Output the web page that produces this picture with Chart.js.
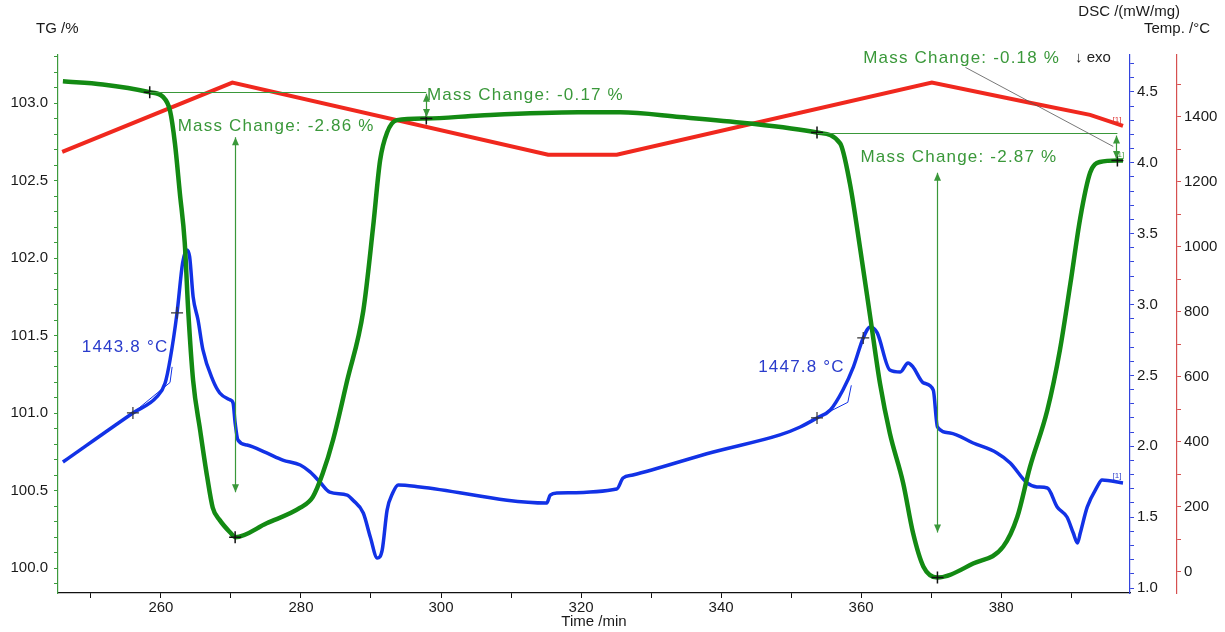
<!DOCTYPE html>
<html>
<head>
<meta charset="utf-8">
<title>TG / DSC</title>
<script src="https://cdn.jsdelivr.net/npm/chart.js@4.4.1/dist/chart.umd.min.js"></script>
<style>
  html, body { margin: 0; padding: 0; background: #fff; }
  canvas { display: block; }
</style>
</head>
<body>
<canvas id="tgChart" width="1225" height="632"></canvas>
<script>
// TG curve (time in min, mass in %)
const tgTime = [246.0, 251.7, 258.4, 260.3, 261.3, 262.0, 262.7, 263.4, 263.9, 264.6, 265.6, 266.6, 267.4, 268.4, 269.9, 270.6,
  275.1, 279.9, 281.7, 283.1, 284.6, 286.6, 288.9, 290.3, 291.3, 292.3, 293.7, 297.9, 305.6, 319.6, 325.6, 334.1, 343.7,
  353.7, 357.0, 358.4, 359.9, 361.3, 362.7, 364.1, 366.0, 367.4, 368.9, 370.9, 376.0, 380.3, 382.3, 384.1, 386.6, 388.4,
  389.9, 391.3, 392.7, 394.1, 396.6, 397.4];
const tgValue = [103.14, 103.12, 103.07, 103.04, 102.95, 102.74, 102.42, 102.10, 101.66, 101.21, 100.89, 100.59, 100.39, 100.31, 100.23, 100.20,
  100.29, 100.39, 100.46, 100.61, 100.83, 101.21, 101.66, 102.20, 102.63, 102.81, 102.89, 102.90, 102.92, 102.94, 102.94, 102.91, 102.87,
  102.81, 102.74, 102.48, 102.05, 101.62, 101.19, 100.87, 100.55, 100.23, 100.01, 99.94, 100.03, 100.14, 100.33, 100.65, 101.02, 101.41,
  101.84, 102.26, 102.55, 102.62, 102.63, 102.63];

// DSC curve (mW/mg)
const dscTime = [246.0, 256.0, 259.4, 260.6, 261.3, 262.3, 263.1, 263.7, 264.1, 264.6, 265.3, 266.0, 267.4, 268.4, 269.9, 270.3,
  270.6, 271.0, 272.3, 275.1, 277.4, 279.9, 281.3, 282.7, 284.1, 286.6, 287.4, 288.9, 289.9, 290.9, 291.6, 292.3, 293.1, 293.9,
  297.0, 315.1, 315.6, 316.6, 325.1, 326.0, 327.4, 338.9, 348.4, 351.3, 353.7, 355.6, 357.4, 358.9, 360.3, 361.3, 362.3, 364.1,
  365.6, 366.7, 367.4, 368.9, 370.3, 370.9, 372.7, 376.0, 379.4, 381.3, 383.7, 385.1, 386.6, 388.0, 389.4, 390.3, 390.9, 391.3,
  392.3, 393.7, 394.4, 397.4];
const dscValue = [1.889, 2.235, 2.348, 2.447, 2.609, 2.941, 3.294, 3.385, 3.336, 3.054, 2.891, 2.680, 2.468, 2.376, 2.327, 2.306,
  2.164, 2.044, 2.009, 1.953, 1.903, 1.868, 1.819, 1.748, 1.677, 1.656, 1.621, 1.529, 1.360, 1.212, 1.268, 1.550, 1.670, 1.727,
  1.713, 1.600, 1.656, 1.670, 1.699, 1.776, 1.797, 1.960, 2.080, 2.136, 2.200, 2.256, 2.397, 2.560, 2.764, 2.842, 2.800, 2.538,
  2.524, 2.588, 2.560, 2.447, 2.397, 2.136, 2.094, 2.023, 1.953, 1.882, 1.741, 1.713, 1.706, 1.572, 1.501, 1.388, 1.318, 1.388,
  1.572, 1.713, 1.762, 1.741];

// furnace temperature (°C)
const tempTime = [245.9, 270.2, 315.3, 325.1, 370.1, 384.1, 392.7, 397.4];
const tempValue = [1292, 1505, 1283, 1283, 1505, 1443, 1406, 1372];

// evaluation markers
const tgMarkTime = [258.4, 270.6, 297.9, 353.7, 370.9, 396.6];
const tgMarkValue = [103.07, 100.20, 102.90, 102.81, 99.94, 102.63];
const dscMarkTime = [256.0, 262.3, 353.7, 360.3];
const dscMarkValue = [2.235, 2.941, 2.200, 2.764];

// onset tangents
const onset1Time = [256.0, 261.3, 261.6];
const onset1Value = [2.235, 2.45, 2.56];
const onset2Time = [353.7, 358.1, 358.6];
const onset2Value = [2.200, 2.31, 2.43];

// mass change annotations
const massLabels = ['Mass Change: -2.86 %', 'Mass Change: -0.17 %', 'Mass Change: -2.87 %', 'Mass Change: -0.18 %'];
const massLabelTime = [262.4, 298.0, 359.9, 360.3];
const massLabelTG = [102.85, 103.05, 102.65, 103.29];
const stepLineFrom = [258.4, 353.7];
const stepLineTo = [297.9, 396.6];
const stepLineTG = [103.07, 102.81];
const arrowTime = [270.6, 297.9, 370.9, 396.4];
const arrowTop = [102.78, 103.06, 102.55, 102.79];
const arrowBottom = [100.49, 102.91, 100.23, 102.64];
const pointerTime = [374.9, 396.0];
const pointerTG = [103.23, 102.72];

// DSC peak labels
const peakLabels = ['1443.8 °C', '1447.8 °C'];
const peakTime = [248.7, 345.3];
const peakDSC = [2.70, 2.56];

const FONT = '"Liberation Sans", Arial, sans-serif';
const GREEN = '#138a13';
const NOTE_GREEN = '#3a983a';
const BLUE = '#1232e6';
const RED = '#f0281e';

function pts(xs, ys) {
    return xs.map((x, i) => ({ x: x, y: ys[i] }));
}

function halfStep(v) {
    return Math.abs(v * 2 - Math.round(v * 2)) < 1e-6;
}

function arrowHead(ctx, x, y, dir) {
    ctx.beginPath();
    ctx.moveTo(x, y);
    ctx.lineTo(x - 3.5, y - dir * 8);
    ctx.lineTo(x + 3.5, y - dir * 8);
    ctx.closePath();
    ctx.fill();
}

// titles and evaluation notes, placed with the chart's own scales
const overlay = {
    id: 'overlay',
    afterDatasetsDraw(chart) {
        const { ctx, scales } = chart;
        const sx = scales.x, tg = scales.yTG, dsc = scales.yDSC, tmp = scales.yT;
        ctx.save();

        // step lines
        ctx.strokeStyle = NOTE_GREEN;
        ctx.fillStyle = NOTE_GREEN;
        ctx.lineWidth = 1.2;
        stepLineTG.forEach((v, i) => {
            const y = Math.round(tg.getPixelForValue(v)) + 0.5;
            ctx.beginPath();
            ctx.moveTo(sx.getPixelForValue(stepLineFrom[i]), y);
            ctx.lineTo(sx.getPixelForValue(stepLineTo[i]), y);
            ctx.stroke();
        });

        // double arrows
        arrowTime.forEach((t, i) => {
            const x = Math.round(sx.getPixelForValue(t)) + 0.5;
            const y1 = tg.getPixelForValue(arrowTop[i]);
            const y2 = tg.getPixelForValue(arrowBottom[i]);
            ctx.beginPath();
            ctx.moveTo(x, y1);
            ctx.lineTo(x, y2);
            ctx.stroke();
            arrowHead(ctx, x, y1, -1);
            arrowHead(ctx, x, y2, 1);
        });

        // pointer for the last step
        ctx.strokeStyle = '#555';
        ctx.lineWidth = 0.8;
        ctx.beginPath();
        ctx.moveTo(sx.getPixelForValue(pointerTime[0]), tg.getPixelForValue(pointerTG[0]));
        ctx.lineTo(sx.getPixelForValue(pointerTime[1]), tg.getPixelForValue(pointerTG[1]));
        ctx.stroke();

        // mass change texts
        ctx.textBaseline = 'middle';
        ctx.textAlign = 'left';
        ctx.font = '17px ' + FONT;
        ctx.letterSpacing = '1.2px';
        ctx.fillStyle = NOTE_GREEN;
        massLabels.forEach((txt, i) => {
            ctx.fillText(txt, sx.getPixelForValue(massLabelTime[i]), tg.getPixelForValue(massLabelTG[i]));
        });

        ctx.fillStyle = '#2a3ccc';
        peakLabels.forEach((txt, i) => {
            ctx.fillText(txt, sx.getPixelForValue(peakTime[i]), dsc.getPixelForValue(peakDSC[i]));
        });
        ctx.letterSpacing = '0px';

        ctx.fillStyle = '#222';
        ctx.font = '15px ' + FONT;
        ctx.fillText('\u2193 exo', 1075, tg.getPixelForValue(103.29));

        // small curve tags
        ctx.font = '8px ' + FONT;
        ctx.fillStyle = '#d33';
        ctx.fillText('[1]', sx.getPixelForValue(395.9), tmp.getPixelForValue(1392));
        ctx.fillStyle = NOTE_GREEN;
        ctx.fillText('[1]', sx.getPixelForValue(396.3), tg.getPixelForValue(102.665));
        ctx.fillStyle = '#3344cc';
        ctx.fillText('[1]', sx.getPixelForValue(395.9), dsc.getPixelForValue(1.79));

        // axis titles
        ctx.font = '15px ' + FONT;
        ctx.fillStyle = '#1a1a1a';
        ctx.fillText('TG /%', 36, 29);
        ctx.textAlign = 'right';
        ctx.fillText('DSC /(mW/mg)', 1180, 12);
        ctx.fillText('Temp. /\u00B0C', 1210, 29);
        ctx.textAlign = 'center';
        ctx.fillText('Time /min', (sx.left + sx.right) / 2, 622);
        ctx.restore();
    }
};

function yAxis(pos, color, min, max, step, label, width, weight) {
    return {
        type: 'linear',
        position: pos,
        weight: weight,
        min: min,
        max: max,
        ticks: {
            stepSize: step,
            autoSkip: false,
            includeBounds: false,
            padding: pos === 'left' ? 6 : 3,
            color: '#1a1a1a',
            font: { family: FONT, size: 15 },
            callback: label
        },
        grid: { drawOnChartArea: false, tickLength: 4, color: color },
        border: { display: true, color: color, width: 1.2 },
        afterFit: s => { s.width = width; }
    };
}

const ctx = document.getElementById('tgChart').getContext('2d');
new Chart(ctx, {
    type: 'line',
    data: {
        datasets: [
            {
                data: pts(tgMarkTime, tgMarkValue), yAxisID: 'yTG', showLine: false,
                pointStyle: 'cross', pointRadius: 6, borderColor: '#111', borderWidth: 1.5
            },
            {
                data: pts(dscMarkTime, dscMarkValue), yAxisID: 'yDSC', showLine: false,
                pointStyle: 'cross', pointRadius: 6, borderColor: '#333', borderWidth: 1.2
            },
            {
                data: pts(tgTime, tgValue), yAxisID: 'yTG', borderColor: GREEN,
                borderWidth: 4.5, pointRadius: 0, cubicInterpolationMode: 'monotone'
            },
            {
                data: pts(tempTime, tempValue), yAxisID: 'yT', borderColor: RED,
                borderWidth: 4, pointRadius: 0, tension: 0
            },
            {
                data: pts(onset1Time, onset1Value), yAxisID: 'yDSC', borderColor: BLUE,
                borderWidth: 1, pointRadius: 0
            },
            {
                data: pts(onset2Time, onset2Value), yAxisID: 'yDSC', borderColor: BLUE,
                borderWidth: 1, pointRadius: 0
            },
            {
                data: pts(dscTime, dscValue), yAxisID: 'yDSC', borderColor: BLUE,
                borderWidth: 3.5, pointRadius: 0, cubicInterpolationMode: 'monotone'
            }
        ]
    },
    options: {
        responsive: false,
        animation: false,
        layout: { padding: { top: 55, left: 0, right: 0, bottom: 0 } },
        plugins: { legend: { display: false }, tooltip: { enabled: false } },
        scales: {
            x: {
                type: 'linear',
                position: 'bottom',
                min: 245.3,
                max: 398.4,
                ticks: {
                    stepSize: 10,
                    autoSkip: false,
                    includeBounds: false,
                    maxRotation: 0,
                    padding: 1,
                    color: '#1a1a1a',
                    font: { family: FONT, size: 15 },
                    callback: v => (Math.round(v) % 20 === 0 ? String(Math.round(v)) : '')
                },
                grid: { drawOnChartArea: false, tickLength: 5, color: '#111' },
                border: { display: true, color: '#111', width: 1.2 },
                afterFit: s => { s.height = 39; }
            },
            yTG: yAxis('left', '#3c9a3c', 99.84, 103.31, 0.1,
                v => (halfStep(v) ? v.toFixed(1) : ''), 58, 0),
            yDSC: yAxis('right', '#3344dd', 0.965, 4.76, 0.1,
                v => (halfStep(v) ? v.toFixed(1) : ''), 47, 0),
            yT: yAxis('right', '#d65050', -64.6, 1590, 100,
                v => (Math.round(v) % 200 === 0 ? String(Math.round(v)) : ''), 48, 1)
        }
    },
    plugins: [overlay]
});
</script>
</body>
</html>
